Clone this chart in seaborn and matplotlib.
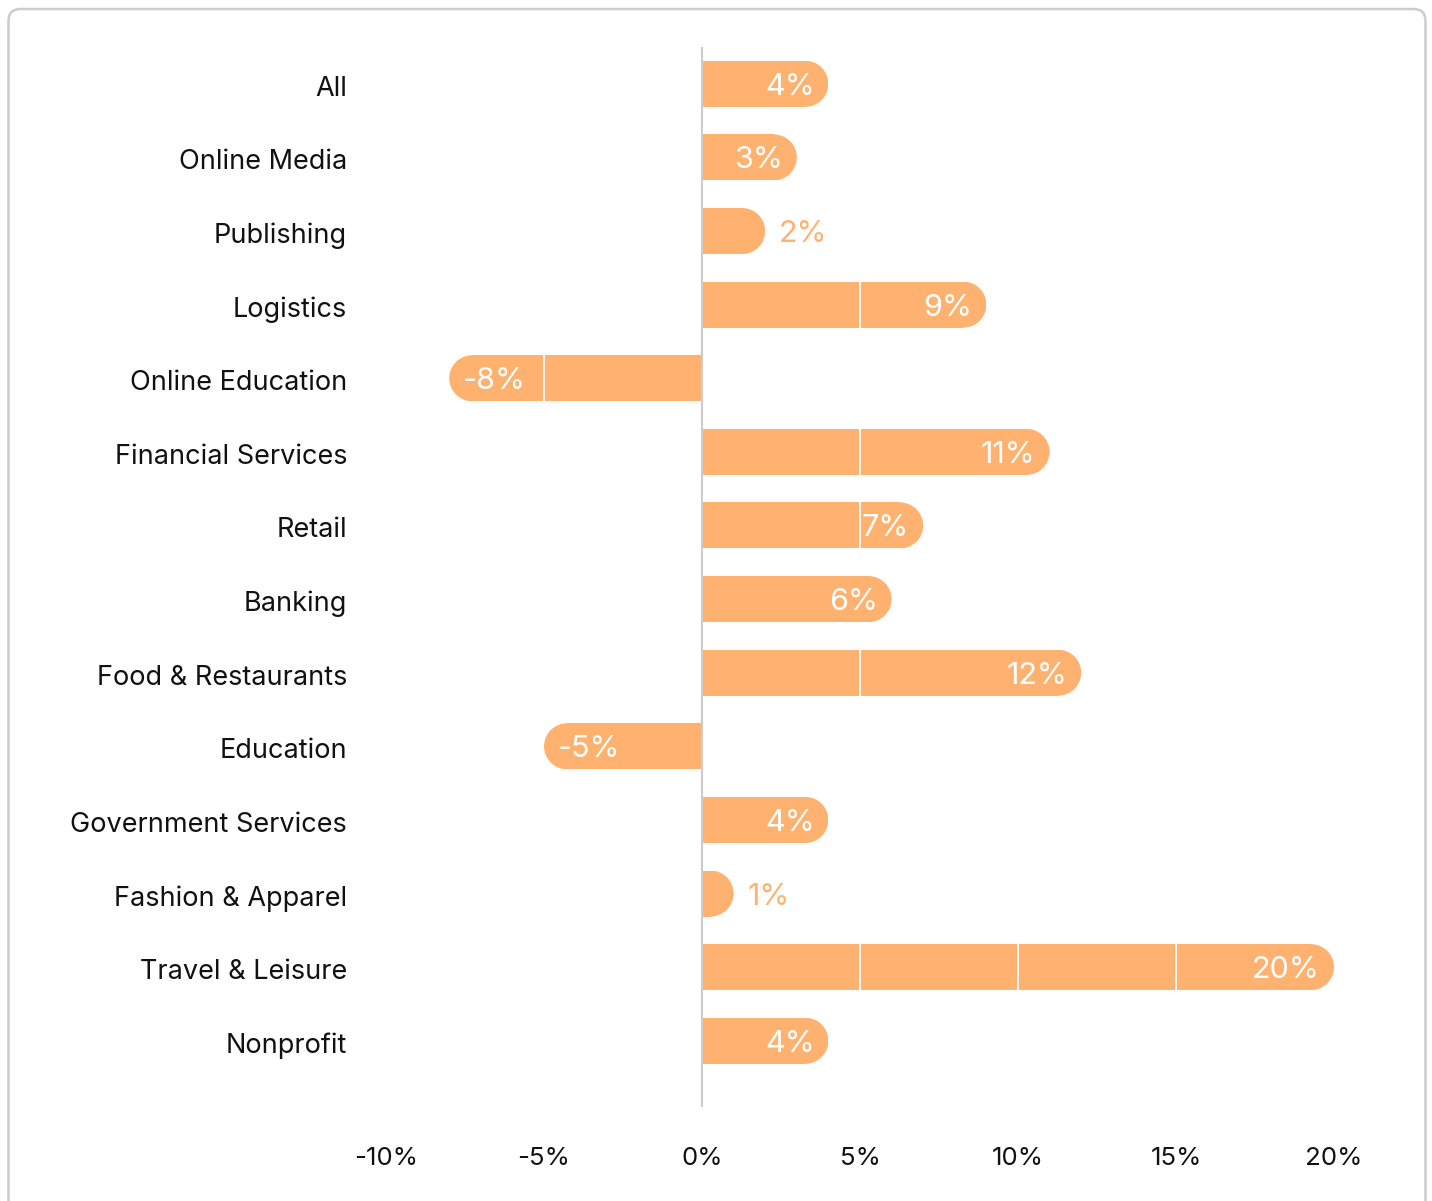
import numpy as np
import seaborn as sns
import matplotlib.pyplot as plt
from matplotlib.patches import Ellipse, Rectangle, FancyBboxPatch
from matplotlib.transforms import IdentityTransform, ScaledTranslation

# chart data
categories = ["All", "Online Media", "Publishing", "Logistics", "Online Education",
              "Financial Services", "Retail", "Banking", "Food & Restaurants",
              "Education", "Government Services", "Fashion & Apparel",
              "Travel & Leisure", "Nonprofit"]
values = [4, 3, 2, 9, -8, 11, 7, 6, 12, -5, 4, 1, 20, 4]
xticks = [-10, -5, 0, 5, 10, 15, 20]
xtick_labels = ["-10%", "-5%", "0%", "5%", "10%", "15%", "20%"]

bar_color = "#FFB26F"
grey = "#CCCCCC"

sns.set_style("white")
plt.rcParams["font.family"] = ["Inter", "DejaVu Sans"]

fig = plt.figure(figsize=(14.32, 12.01), dpi=100)
ax = fig.add_axes([386 / 1432, 94 / 1201, 948 / 1432, 1060 / 1201])

bar_h = 0.625
sns.barplot(x=values, y=categories, orient="h", color=bar_color,
            width=bar_h, linewidth=0, saturation=1, ax=ax, zorder=1)

ax.set_xlim(-10, 20)
ax.set_ylim(13.9, -0.5)

# rounded caps on the outer end of each bar
px_x = ax.transData.transform((1, 0))[0] - ax.transData.transform((0, 0))[0]
px_y = abs(ax.transData.transform((0, 1))[1] - ax.transData.transform((0, 0))[1])
r_px = bar_h * px_y / 2
rx = r_px / px_x
bar_y0 = []
for p, v in zip(list(ax.patches), values):
    y0 = p.get_y()
    bar_y0.append(y0)
    sign = np.sign(v)
    p.set_x(0)
    p.set_width(v - sign * rx)
    cap = Ellipse((v - sign * rx, y0 + bar_h / 2), 2 * rx, bar_h,
                  facecolor=bar_color, edgecolor="none", zorder=1)
    ax.add_patch(cap)
    clip = Rectangle((0, y0), v, bar_h, transform=ax.transData)
    cap.set_clip_path(clip)

ax.axvline(0, color=grey, linewidth=1.5, zorder=3)

# value labels
off = 14 * 72 / 100
labels = []
for i, v in enumerate(values):
    txt = f"{v}%"
    if abs(v) >= 3:
        dx = -off if v > 0 else off
        ha = "right" if v > 0 else "left"
        col = "white"
    else:
        dx = off if v > 0 else -off
        ha = "left" if v > 0 else "right"
        col = bar_color
    t = ax.annotate(txt, (v, i), xytext=(dx, 0), textcoords="offset points",
                    ha=ha, va="center_baseline", color=col, fontsize=22, zorder=5)
    labels.append(t)

ax.set_xticks(xticks)
ax.set_xticklabels(xtick_labels)
ax.tick_params(axis="x", direction="in", length=10.8, width=1, color=grey,
               pad=28.5, labelsize=18.6, labelcolor="#111111")
ax.tick_params(axis="y", length=0, pad=28, labelsize=19.5, labelcolor="#111111")
shift = ScaledTranslation(0, -2 / 100, fig.dpi_scale_trans)
for lab in ax.get_yticklabels():
    lab.set_transform(lab.get_transform() + shift)
ax.grid(False)
ax.set_xlabel("")
ax.set_ylabel("")
for s in ax.spines.values():
    s.set_visible(False)

# white grid lines inside each bar, left out where the value label sits
fig.canvas.draw()
renderer = fig.canvas.get_renderer()
inv = ax.transData.inverted()
grid_x = [g for g in xticks if g != 0]
for t, v, y0 in zip(labels, values, bar_y0):
    bb = t.get_window_extent(renderer)
    lx0 = inv.transform((bb.x0 - 1, 0))[0]
    lx1 = inv.transform((bb.x1 + 1, 0))[0]
    for g in grid_x:
        inside = (0 < g < v) or (v < g < 0)
        if inside and not (lx0 <= g <= lx1):
            ax.vlines(g, y0, y0 + bar_h, colors="white", linewidth=1.3, zorder=2)

# rounded card border
frame = FancyBboxPatch((8.5, -30), 1417, 1222, boxstyle="round,pad=0,rounding_size=12",
                       transform=IdentityTransform(), facecolor="none",
                       edgecolor=grey, linewidth=1.8)
fig.patches.append(frame)

fig.savefig("out.png", dpi=100)
